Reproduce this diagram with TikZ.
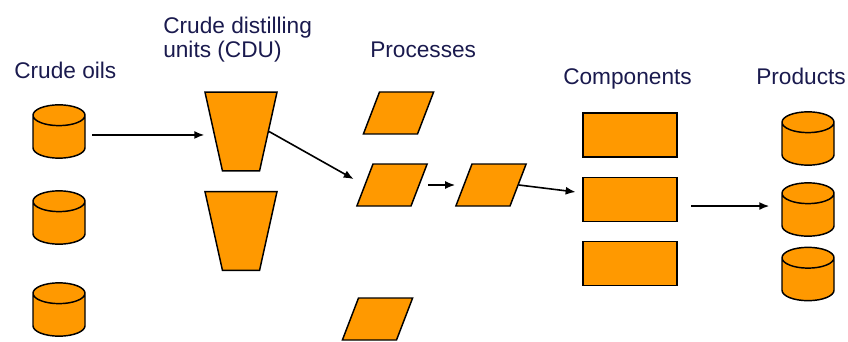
\documentclass[tikz,border=0pt]{standalone}
\usepackage{fontspec}
\setmainfont{Liberation Sans}
\usetikzlibrary{shapes.geometric, arrows.meta}

\definecolor{tankorange}{HTML}{FF9900}
\definecolor{labelblue}{HTML}{1A1A4E}

\begin{document}
\begin{tikzpicture}[x=0.75pt, y=-0.75pt, >={Latex[length=7.5pt, width=6pt]},
    box/.style={draw=black, line width=1.1pt, fill=tankorange, inner sep=0pt},
    tank/.style={box, cylinder, shape border rotate=90, aspect=0.4,
        inner xsep=19.5pt, inner ysep=0pt, anchor=shape center,
        minimum width=38.25pt, minimum height=40pt},
    cdu/.style={box, trapezium, shape border rotate=180,
        trapezium left angle=77.5, trapezium right angle=77.5,
        inner xsep=13.9pt, inner ysep=29.6pt},
    unit/.style={box, trapezium,
        trapezium left angle=69, trapezium right angle=111,
        inner xsep=14.25pt, inner ysep=15.75pt},
    comp/.style={box, rectangle, minimum width=70.5pt, minimum height=33pt},
    flow/.style={->, line width=1.2pt},
    lbl/.style={text=labelblue, inner sep=0pt,
        font=\fontsize{17}{18}\selectfont}]

    \useasboundingbox (0,0) rectangle (848,342);

    % Ueberschriften
    \node[lbl, anchor=base west] (lblOils) at (14,79) {Crude oils};
    \node[lbl, anchor=north west, align=left] (lblCdu) at (163,16.5)
        {Crude distilling\\units (CDU)};
    \node[lbl, anchor=base west] (lblProc) at (370,58) {Processes};
    \node[lbl, anchor=base west] (lblComp) at (563,85) {Components};
    \node[lbl, anchor=base west] (lblProd) at (756,85) {Products};

    % Rohoele
    \foreach \i/\y in {1/131.5, 2/217.5, 3/309.5}
        \node[tank] (oil\i) at (59,\y) {};

    % Destillation (CDU)
    \node[cdu] (cdu1) at (241,131.5) {};
    \node[cdu] (cdu2) at (241,231) {};

    % Prozesse
    \node[unit] (proc1) at (398.5,113) {};
    \node[unit] (proc2) at (392,185) {};
    \node[unit] (proc3) at (491,185) {};
    \node[unit] (proc4) at (377.5,319) {};

    % Komponenten
    \foreach \i/\y in {1/135, 2/199.5, 3/263.5}
        \node[comp] (comp\i) at (630,\y) {};

    % Produkte
    \foreach \i/\y in {1/138.5, 2/209.5, 3/274}
        \node[tank] (prod\i) at (808,\y) {};

    % Pfeile
    \draw[flow, shorten <=5pt, shorten >=6.5pt]
        ([yshift=-2.6pt]cdu1.center -| oil1.east) -- ([yshift=-2.6pt]cdu1.west);
    \draw[flow, shorten >=9pt] (cdu1.east) -- (proc2.west);
    \draw[flow, shorten <=6pt, shorten >=6pt] (proc2.east) -- (proc3.west);
    \draw[flow, shorten >=5pt] (proc3.east) -- ([yshift=5pt]comp2.west);
    \draw[flow, shorten <=10pt, shorten >=9pt]
        ([yshift=-4.9pt]comp2.east) -- ([yshift=-4.9pt]comp2.east -| prod2.west);

\end{tikzpicture}
\end{document}
